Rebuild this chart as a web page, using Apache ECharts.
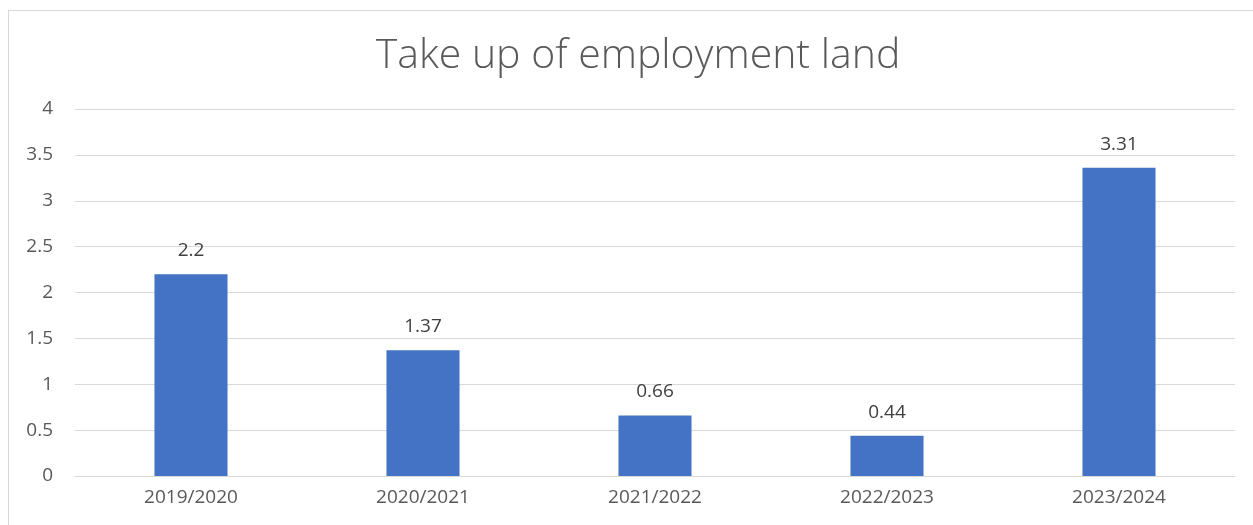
<!DOCTYPE html>
<html>
<head>
<meta charset="utf-8">
<script src="https://cdn.jsdelivr.net/npm/echarts@6/dist/echarts.min.js"></script>
<style>
  html, body { margin: 0; padding: 0; background: #fff; }
  #frame {
    position: absolute; left: 8px; top: 10px; width: 1300px; height: 600px;
    border: 1px solid #d9d9d9; box-sizing: border-box;
  }
  #chart { position: absolute; left: 0; top: 0; width: 1253px; height: 525px; }
</style>
</head>
<body>
<div id="frame"></div>
<div id="chart"></div>
<script>
  const years = ['2019/2020', '2020/2021', '2021/2022', '2022/2023', '2023/2024'];
  // bar heights as drawn; the last bar stands a little above its printed label
  const takeUp = [2.2, 1.37, 0.66, 0.44, 3.36];
  const labelText = ['2.2', '1.37', '0.66', '0.44', '3.31'];

  const chart = echarts.init(document.getElementById('chart'));
  chart.setOption({
    animation: false,
    textStyle: { fontFamily: 'Open Sans' },
    title: {
      text: 'Take up of employment land',
      left: 633,
      textAlign: 'center',
      top: 31,
      textStyle: { fontSize: 41, fontWeight: 300, color: '#595959', fontFamily: 'Open Sans' }
    },
    grid: { left: 75, right: 18, top: 109, bottom: 49 },
    xAxis: {
      type: 'category',
      data: years,
      axisLine: { lineStyle: { color: '#d9d9d9' } },
      axisTick: { show: false },
      axisLabel: { fontSize: 19, color: '#595959', margin: 12 }
    },
    yAxis: {
      type: 'value',
      min: 0,
      max: 4,
      interval: 0.5,
      axisLine: { show: false },
      axisTick: { show: false },
      splitLine: { lineStyle: { color: '#d9d9d9' } },
      axisLabel: { fontSize: 19, color: '#595959', margin: 22 }
    },
    series: [{
      type: 'bar',
      data: takeUp,
      barWidth: '31.5%',
      itemStyle: { color: '#4472c4' },
      label: {
        show: true,
        position: 'top',
        distance: 14,
        fontSize: 19,
        color: '#404040',
        formatter: p => labelText[p.dataIndex]
      }
    }]
  });
</script>
</body>
</html>
